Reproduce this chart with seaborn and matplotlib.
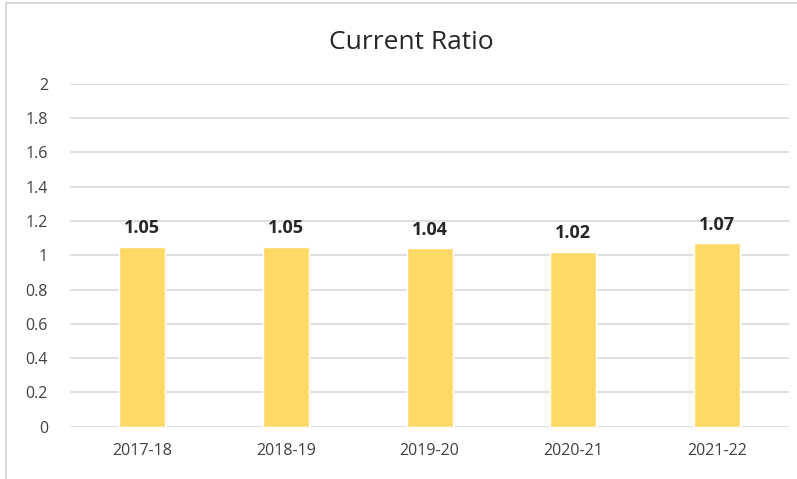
import matplotlib
matplotlib.use("Agg")
import matplotlib.pyplot as plt
from matplotlib.lines import Line2D
import pandas as pd
import seaborn as sns

years = ["2017-18", "2018-19", "2019-20", "2020-21", "2021-22"]
ratios = [1.05, 1.05, 1.04, 1.02, 1.07]

sns.set_theme(style="whitegrid")
plt.rcParams['font.family'] = ['Open Sans', 'DejaVu Sans']

df = pd.DataFrame({"year": years, "ratio": ratios})

fig = plt.figure(figsize=(7.97, 4.79), dpi=100)
ax = fig.add_axes([0.088, 0.109, 0.902, 0.716])

sns.barplot(data=df, x="year", y="ratio", color="#FFD966", saturation=1,
            width=0.32, ax=ax)

ax.set_ylim(0, 2)
ax.set_yticks([i / 5 for i in range(11)])
ax.set_yticklabels(["0", "0.2", "0.4", "0.6", "0.8", "1", "1.2", "1.4", "1.6", "1.8", "2"])
ax.set_xlim(-0.5, 4.5)
ax.grid(axis="y", color="#D9D9D9", linewidth=1.2)
ax.grid(axis="x", visible=False)
for s in ax.spines.values():
    s.set_visible(False)
ax.set_xlabel("")
ax.set_ylabel("")
ax.tick_params(axis="both", length=0, labelsize=11.5, colors="#404040")
ax.tick_params(axis="y", pad=16)
ax.tick_params(axis="x", pad=12)

for i, v in enumerate(ratios):
    ax.text(i, v + 0.055, f"{v:.2f}", ha="center", va="bottom",
            fontsize=13, fontweight="bold", color="#262626")

fig.text(0.516, 0.912, "Current Ratio", ha="center", va="center",
         fontsize=19, color="#262626")

# outer chart border (left and top)
fig.add_artist(Line2D([0.008, 0.008], [0, 0.994], transform=fig.transFigure,
                      color="#D9D9D9", linewidth=1.5))
fig.add_artist(Line2D([0.008, 1.0], [0.994, 0.994], transform=fig.transFigure,
                      color="#D9D9D9", linewidth=1.5))

fig.savefig("out.png", dpi=100)
